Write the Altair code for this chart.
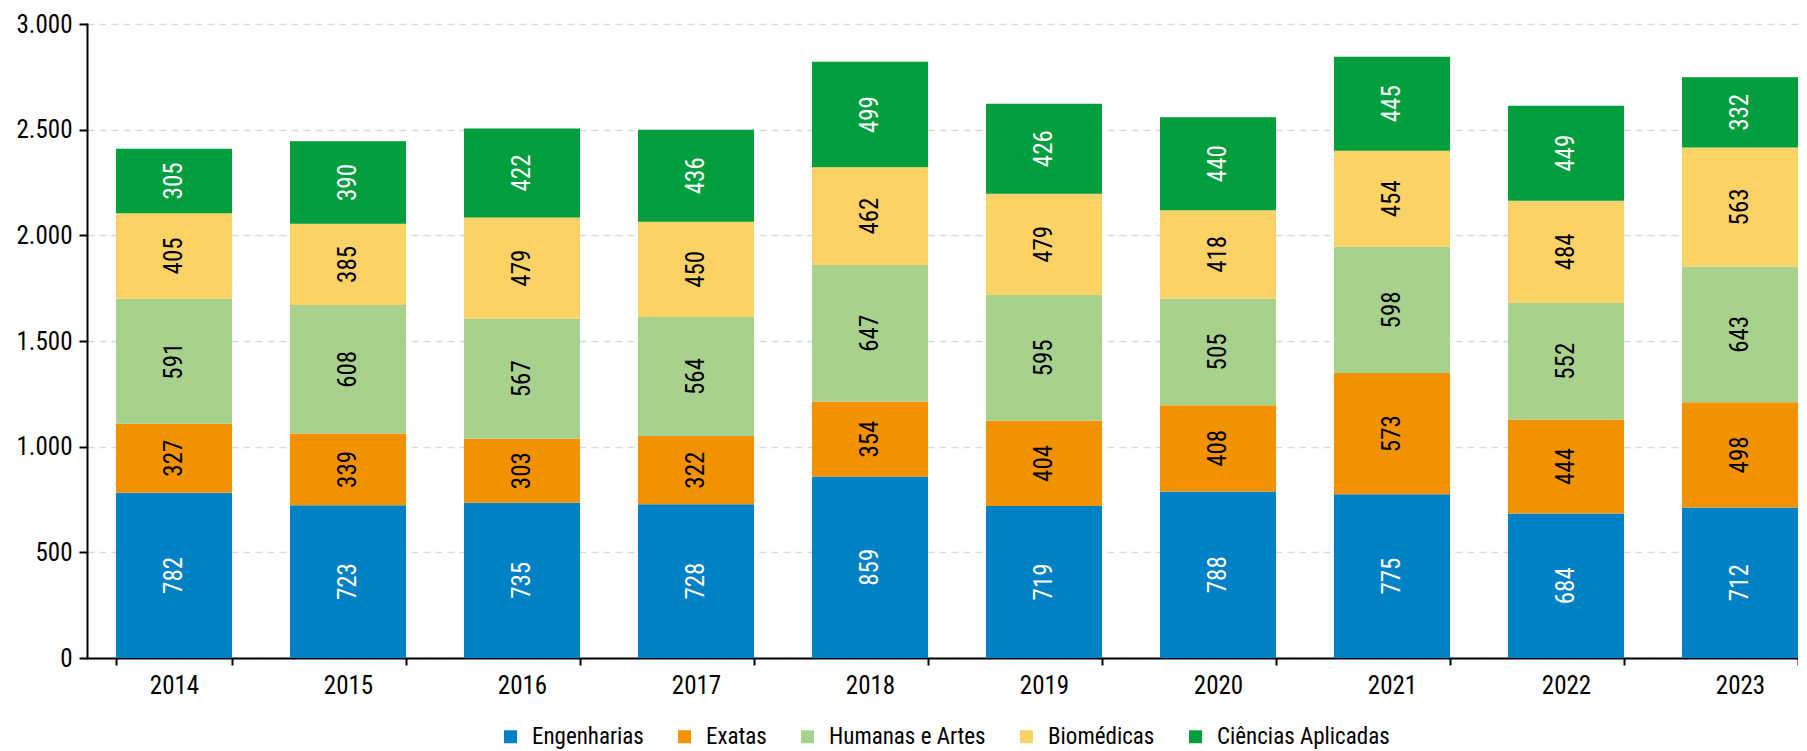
import altair as alt
import pandas as pd

years = ["2014", "2015", "2016", "2017", "2018", "2019", "2020", "2021", "2022", "2023"]
categories = ["Engenharias", "Exatas", "Humanas e Artes", "Biomédicas", "Ciências Aplicadas"]
colors = ["#0081c6", "#f39200", "#a9d18e", "#fbd266", "#009e3d"]
label_colors = ["white", "black", "black", "black", "white"]

engenharias = [782, 723, 735, 728, 859, 719, 788, 775, 684, 712]
exatas = [327, 339, 303, 322, 354, 404, 408, 573, 444, 498]
humanas = [591, 608, 567, 564, 647, 595, 505, 598, 552, 643]
biomedicas = [405, 385, 479, 450, 462, 479, 418, 454, 484, 563]
ciencias = [305, 390, 422, 436, 499, 426, 440, 445, 449, 332]

series = [engenharias, exatas, humanas, biomedicas, ciencias]
rows = []
for ci, (cat, vals) in enumerate(zip(categories, series)):
    for y, v in zip(years, vals):
        rows.append({"ano": y, "area": cat, "valor": v, "ordem": ci, "cor_txt": label_colors[ci]})
df = pd.DataFrame(rows)

FONT = "'Liberation Sans Narrow', 'Roboto Condensed', 'Arial Narrow', Roboto, sans-serif"
FS = 25
LFS = 23

base = alt.Chart(df).transform_stack(
    stack="valor", groupby=["ano"], as_=["y0", "y1"], sort=[alt.SortField("ordem", order="ascending")]
).transform_calculate(mid="(datum.y0 + datum.y1) / 2")

x_enc = alt.X("ano:N", title=None, sort=years,
              scale=alt.Scale(paddingInner=0.333, paddingOuter=0.1665),
              axis=alt.Axis(labelAngle=0, tickBand="extent", labelFont=FONT, labelFontSize=FS,
                            labelColor="black", domainColor="black", tickColor="black",
                            domainWidth=2, tickWidth=2, tickSize=7, labelPadding=8, grid=False))

bars = base.mark_bar().encode(
    x=x_enc,
    y=alt.Y("y0:Q", title=None, scale=alt.Scale(domain=[0, 3000]),
            axis=alt.Axis(values=[0, 500, 1000, 1500, 2000, 2500, 3000],
                          labelExpr="replace(format(datum.value, ','), ',', '.')",
                          labelFont=FONT, labelFontSize=FS, labelColor="black",
                          domainColor="black", tickColor="black", domainWidth=2, tickWidth=2,
                          tickSize=8, labelPadding=7,
                          grid=True, gridColor="#d9d9d9", gridDash=[7, 5], gridWidth=1.5)),
    y2="y1:Q",
    color=alt.Color("area:N", sort=categories,
                    scale=alt.Scale(domain=categories, range=colors),
                    legend=alt.Legend(orient="none", legendX=412, legendY=701,
                                      direction="horizontal", title=None,
                                      labelFont=FONT, labelFontSize=LFS, labelColor="black",
                                      labelLimit=0, symbolType="square", symbolSize=169,
                                      symbolStrokeWidth=0, columnPadding=29, labelOffset=10)),
)

labels = base.mark_text(angle=270, font=FONT, fontSize=FS, baseline="middle", align="center").encode(
    x=alt.X("ano:N", sort=years),
    y=alt.Y("mid:Q"),
    text=alt.Text("valor:Q"),
    color=alt.Color("cor_txt:N", scale=None),
)

chart = (bars + labels).properties(
    width=1740, height=634, padding={"left": 8, "top": 4, "right": -29, "bottom": 0}
).configure_view(stroke=None).configure_axis(domainCap="square")

chart.save("out.html", embed_options={"renderer": "svg", "actions": False})
